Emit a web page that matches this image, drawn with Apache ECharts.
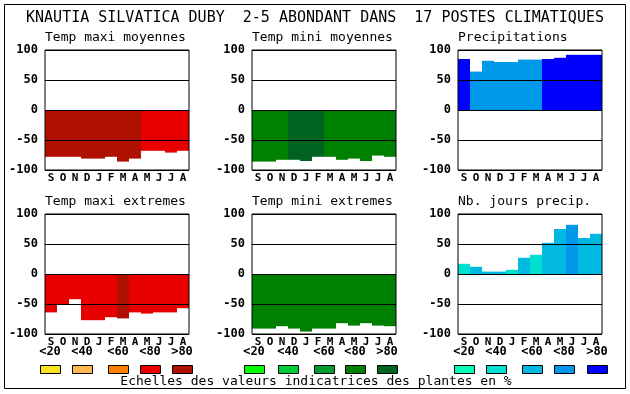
<!DOCTYPE html>
<html><head><meta charset="utf-8">
<script src="https://cdn.jsdelivr.net/npm/echarts@6/dist/echarts.min.js"></script>
<style>html,body{margin:0;padding:0;background:#fff}#c{width:630px;height:394px}</style>
</head><body><div id="c"></div>
<script>
// ---- data ----
const months = ['S','O','N','D','J','F','M','A','M','J','J','A'];
const yTicks = [-100, -50, 0, 50, 100];
const scaleLabels = ['<20','<40','<60','<80','>80'];
const redScale   = ['#f8e41c','#ffb84f','#ff8000','#e80000','#b01000'];
const greenScale = ['#00ff00','#00cc38','#009c30','#008000','#006420'];
const blueScale  = ['#00ffb8','#00e0d0','#00b8e0','#0098e8','#0000ff'];

const titles = ['Temp maxi moyennes','Temp mini moyennes','Precipitations',
                'Temp maxi extremes','Temp mini extremes','Nb. jours precip.'];

const tmaxMoy = [-78,-78,-78,-81,-81,-78,-86,-81,-68,-68,-71,-68];
const tmaxMoyCls = [4,4,4,4,4,4,4,4,3,3,3,3];
const tminMoy = [-86,-86,-83,-83,-85,-78,-78,-83,-81,-85,-76,-78];
const tminMoyCls = [3,3,3,4,4,4,3,3,3,3,3,3];
const precip = [85,64,82,80,80,84,84,85,87,92,92,92];
const precipCls = [4,3,3,3,3,3,3,4,4,4,4,4];
const tmaxExt = [-64,-50,-42,-77,-77,-72,-74,-64,-66,-64,-64,-57];
const tmaxExtCls = [3,3,3,3,3,3,4,3,3,3,3,3];
const tminExt = [-91,-91,-87,-91,-96,-91,-91,-82,-86,-82,-86,-87];
const tminExtCls = [3,3,3,3,3,3,3,3,3,3,3,3];
const nbJours = [17,12,4,4,7,27,32,52,75,82,60,67];
const nbJoursCls = [1,2,2,2,1,2,1,2,2,3,2,2];

const mainTitle = 'KNAUTIA SILVATICA DUBY  2-5 ABONDANT DANS  17 POSTES CLIMATIQUES';
const footnote = 'Echelles des valeurs indicatrices des plantes en %';

// ---- layout ----
const MONO = '"DejaVu Sans Mono", "Liberation Mono", monospace';
const gridLefts = [45, 252, 458];
const gridTops = [50, 214];
const GW = 144, GH = 120;
const legendX = [[40,72,108,140,172],[244,278,314,345,377],[454,486,522,554,587]];

const panels = [
  {v: tmaxMoy, c: tmaxMoyCls, s: redScale},
  {v: tminMoy, c: tminMoyCls, s: greenScale},
  {v: precip,  c: precipCls,  s: blueScale},
  {v: tmaxExt, c: tmaxExtCls, s: redScale},
  {v: tminExt, c: tminExtCls, s: greenScale},
  {v: nbJours, c: nbJoursCls, s: blueScale}
];

const grid = [], xAxis = [], yAxis = [], series = [], graphic = [];
panels.forEach((p, i) => {
  const left = gridLefts[i % 3], top = gridTops[Math.floor(i / 3)];
  grid.push({left: left, top: top, width: GW, height: GH, show: true, z: 10,
    backgroundColor: 'transparent', borderColor: '#000', borderWidth: 1});
  xAxis.push({type: 'category', gridIndex: i, data: months,
    axisLine: {show: false}, axisTick: {show: false},
    axisLabel: {margin: 3, color: '#000', fontFamily: MONO, fontWeight: 'bold', fontSize: 11}});
  yAxis.push({type: 'value', gridIndex: i, min: yTicks[0], max: yTicks[yTicks.length-1], interval: 50, z: 10,
    axisLine: {show: false}, axisTick: {show: false},
    splitLine: {show: true, lineStyle: {color: '#000', width: 1}},
    axisLabel: {margin: 7, color: '#000', fontFamily: MONO, fontWeight: 'bold', fontSize: 12}});
  series.push({type: 'bar', xAxisIndex: i, yAxisIndex: i, barWidth: '100%', barCategoryGap: 0,
    animation: false,
    data: p.v.map((v, k) => ({value: v, itemStyle: {color: p.s[p.c[k]]}}))});
  graphic.push({type: 'text', x: left, y: top - 12,
    style: {text: titles[i], font: '13px ' + MONO, fill: '#000', textAlign: 'left', textVerticalAlign: 'middle'}});
});

// legends
[redScale, greenScale, blueScale].forEach((sc, g) => {
  sc.forEach((col, k) => {
    const x = legendX[g][k];
    graphic.push({type: 'rect', shape: {x: x + 0.5, y: 365.5, width: 20, height: 8},
      style: {fill: col, stroke: '#000', lineWidth: 1}});
    graphic.push({type: 'text', x: x + 10, y: 352,
      style: {text: scaleLabels[k], font: 'bold 12px ' + MONO, fill: '#000',
        textAlign: 'center', textVerticalAlign: 'middle'}});
  });
});

graphic.push({type: 'text', x: 315, y: 18,
  style: {text: mainTitle, font: '15px ' + MONO, fill: '#000', textAlign: 'center', textVerticalAlign: 'middle'}});
graphic.push({type: 'text', x: 316, y: 382,
  style: {text: footnote, font: '13px ' + MONO, fill: '#000', textAlign: 'center', textVerticalAlign: 'middle'}});
graphic.push({type: 'rect', shape: {x: 4.5, y: 4.5, width: 621, height: 384},
  style: {fill: 'none', stroke: '#000', lineWidth: 1}, z: 20});

const chart = echarts.init(document.getElementById('c'), null, {renderer: 'canvas'});
chart.setOption({backgroundColor: '#fff', animation: false, grid, xAxis, yAxis, series, graphic});
</script></body></html>
